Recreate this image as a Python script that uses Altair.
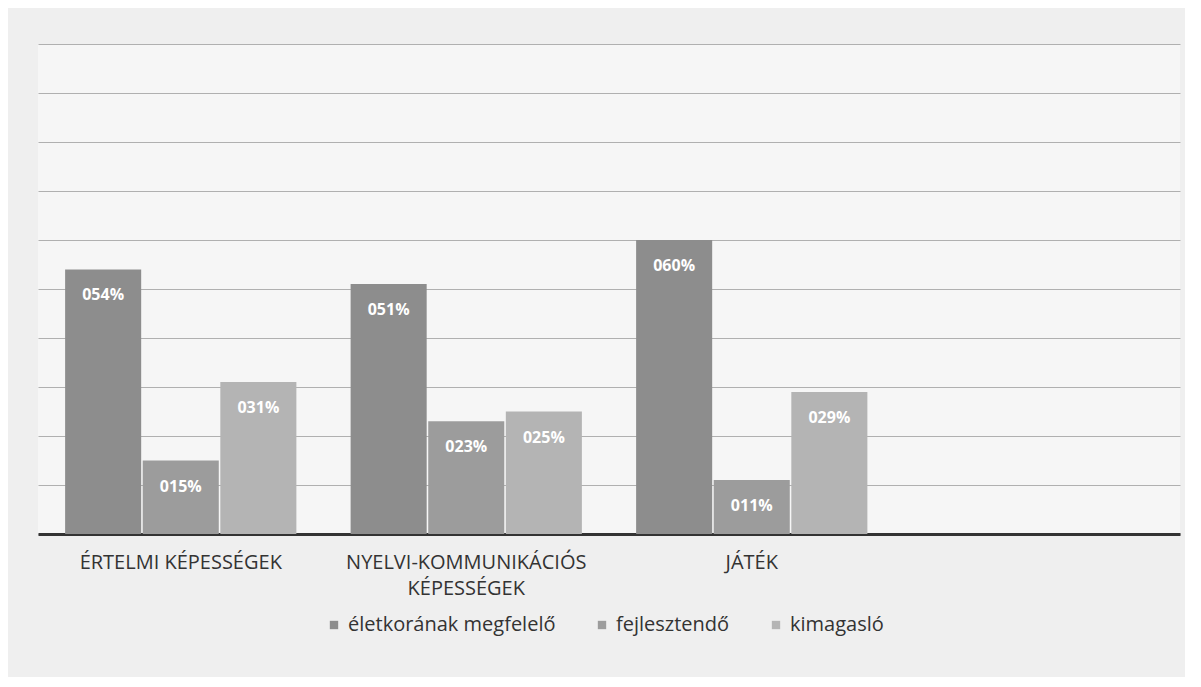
import altair as alt
import pandas as pd

categories = ["ÉRTELMI KÉPESSÉGEK", "NYELVI-KOMMUNIKÁCIÓS|KÉPESSÉGEK", "JÁTÉK"]
axis_domain = categories + [" "]
series = ["életkorának megfelelő", "fejlesztendő", "kimagasló"]
values = {
    "életkorának megfelelő": [54, 51, 60],
    "fejlesztendő": [15, 23, 11],
    "kimagasló": [31, 25, 29],
}
labels = {
    "életkorának megfelelő": ["054%", "051%", "060%"],
    "fejlesztendő": ["015%", "023%", "011%"],
    "kimagasló": ["031%", "025%", "029%"],
}
grid_values = [0, 10, 20, 30, 40, 50, 60, 70, 80, 90, 100]
colors = ["#8d8d8d", "#9c9c9c", "#b4b4b4"]

rows = []
for s in series:
    for i, c in enumerate(categories):
        rows.append({"cat": c, "series": s, "value": values[s][i], "label": labels[s][i]})
df = pd.DataFrame(rows)

FONT = "Open Sans, sans-serif"

x = alt.X("cat:N", sort=axis_domain,
          scale=alt.Scale(domain=axis_domain, paddingInner=0.19, paddingOuter=0.095),
          axis=alt.Axis(title=None, labelAngle=0, labelExpr="split(datum.label, '|')",
                        labelFont=FONT, labelFontSize=20, labelColor="#333333",
                        labelPadding=18, labelLineHeight=26, ticks=False, labelLimit=0,
                        domainColor="#333333", domainWidth=3, grid=False))
xo = alt.XOffset("series:N", sort=series, scale=alt.Scale(domain=series, paddingInner=0.02))
y = alt.Y("value:Q", scale=alt.Scale(domain=[0, 100]),
          axis=alt.Axis(title=None, labels=False, ticks=False, domain=False,
                        values=grid_values, gridColor="#b0b0b0", gridWidth=1))

bars = alt.Chart(df).mark_bar().encode(
    x=x, xOffset=xo, y=y,
    color=alt.Color("series:N", sort=series,
                    scale=alt.Scale(domain=series, range=colors),
                    legend=alt.Legend(title=None, orient="none", direction="horizontal",
                                      legendX=286, legendY=571, symbolType="square",
                                      symbolSize=70, labelFont=FONT, labelLimit=0,
                                      labelFontSize=20, labelColor="#333333",
                                      columnPadding=36, symbolStrokeWidth=0)),
)

text = alt.Chart(df).mark_text(color="white", font=FONT, fontWeight="bold",
                               fontSize=16, baseline="middle", dy=26).encode(
    x=x, xOffset=xo, y=y, text="label:N"
)

chart = alt.layer(bars, text).properties(
    width=1142, height=490,
    padding={"left": 30, "top": 36, "right": 5, "bottom": 42},
    background="#efefef",
).configure_view(stroke=None, fill="#f6f6f6")

chart.save("out.html", embed_options={"renderer": "svg", "actions": False})
